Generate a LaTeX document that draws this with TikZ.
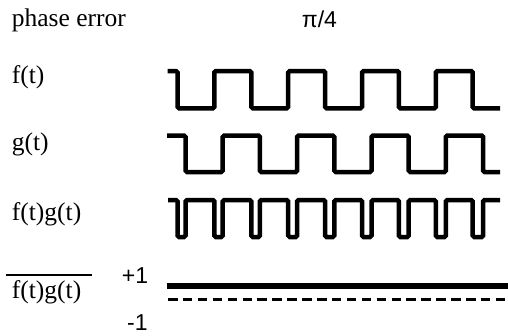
\documentclass[tikz,border=0pt]{standalone}
\usepackage{fontspec}
\setmainfont{Liberation Serif}
\newfontfamily\lsans{Liberation Sans}
\begin{document}
\begin{tikzpicture}[x=1pt,y=-1pt,
  lbl/.style={anchor=base west,inner sep=0pt,font=\fontsize{25.5}{28}\selectfont},
  num/.style={anchor=base west,inner sep=0pt,font=\lsans\fontsize{23}{26}\selectfont},
  wave/.style={line width=4.5pt,rounded corners=1.5pt,line cap=butt}]
\useasboundingbox (0,0) rectangle (508,335);
% labels
\node[lbl] (pe) at (11.7,26.7) {phase error};
\node[num] (pi) at (301.7,27.3) {π/4};
\node[lbl] (f) at (11.7,83.3) {f(t)};
\node[lbl] (g) at (11.7,150) {g(t)};
\node[lbl] (fg) at (11.7,220) {f(t)g(t)};
\node[lbl] (avg) at (11.7,298) {f(t)g(t)};
\node[num] (p1) at (121.7,283.3) {+1};
\node[num] (m1) at (127,330.5) {-1};
% overline of the average label
\draw[line width=2pt] (6,275) -- (91.7,275);
% f(t)
\draw[wave] (167.7,71) -- (177.5,71) -- (177.5,108.3) -- (214.4,108.3) -- (214.4,71)
  -- (251.3,71) -- (251.3,108.3) -- (288.2,108.3) -- (288.2,71)
  -- (325.1,71) -- (325.1,108.3) -- (362.0,108.3) -- (362.0,71)
  -- (398.9,71) -- (398.9,108.3) -- (435.8,108.3) -- (435.8,71)
  -- (472.7,71) -- (472.7,108.3) -- (500,108.3);
% g(t)
\draw[wave] (167,135.5) -- (185.5,135.5) -- (185.5,172) -- (222.7,172) -- (222.7,135.5)
  -- (259.9,135.5) -- (259.9,172) -- (297.1,172) -- (297.1,135.5)
  -- (334.3,135.5) -- (334.3,172) -- (371.5,172) -- (371.5,135.5)
  -- (408.7,135.5) -- (408.7,172) -- (445.9,172) -- (445.9,135.5)
  -- (483.1,135.5) -- (483.1,172) -- (500,172);
% f(t)g(t)
\draw[wave] (168,200)
  -- (177.5,200) -- (177.5,237) -- (185.5,237) -- (185.5,200)
  -- (214.4,200) -- (214.4,237) -- (222.7,237) -- (222.7,200)
  -- (251.3,200) -- (251.3,237) -- (259.9,237) -- (259.9,200)
  -- (288.2,200) -- (288.2,237) -- (297.1,237) -- (297.1,200)
  -- (325.1,200) -- (325.1,237) -- (334.3,237) -- (334.3,200)
  -- (362.0,200) -- (362.0,237) -- (371.5,237) -- (371.5,200)
  -- (398.9,200) -- (398.9,237) -- (408.7,237) -- (408.7,200)
  -- (435.8,200) -- (435.8,237) -- (445.9,237) -- (445.9,200)
  -- (472.7,200) -- (472.7,237) -- (483.1,237) -- (483.1,200)
  -- (500,200);
% average lines
\draw[line width=5.5pt] (166.7,286) -- (508,286);
\draw[line width=3pt,dash pattern=on 9.5pt off 5.4pt] (168,299.3) -- (508,299.3);
\end{tikzpicture}
\end{document}
